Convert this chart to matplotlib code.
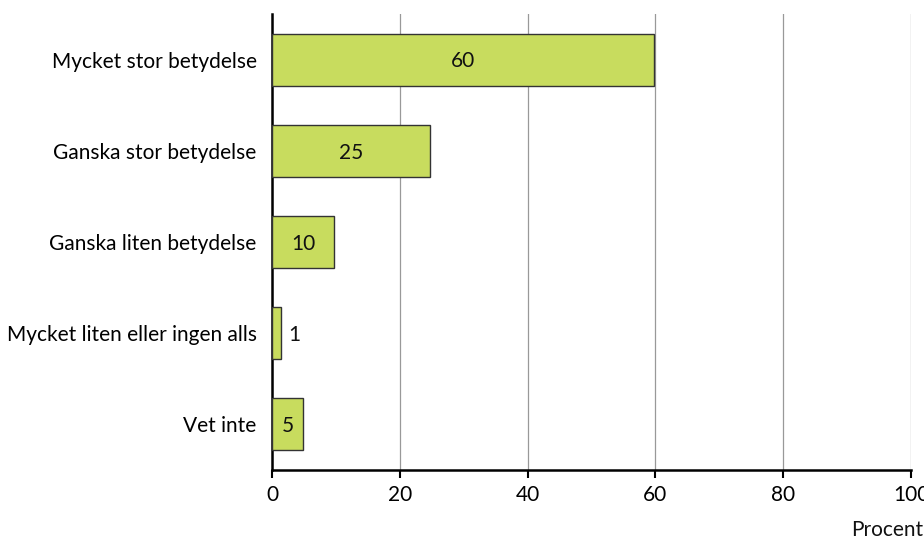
import matplotlib.pyplot as plt
import numpy as np

categories = ["Mycket stor betydelse", "Ganska stor betydelse", "Ganska liten betydelse",
              "Mycket liten eller ingen alls", "Vet inte"]
values = [59.8, 24.7, 9.7, 1.4, 4.8]
labels = ["60", "25", "10", "1", "5"]

plt.rcParams['font.family'] = ['Lato', 'DejaVu Sans']
fs = 15

fig = plt.figure(figsize=(9.24, 5.43), dpi=100)
ax = fig.add_axes([0.2944, 0.1344, 0.6916, 0.8398])

ys = np.arange(len(categories))
ax.barh(ys, values, height=0.57, color='#C8DC5E', edgecolor='#333333', linewidth=1, zorder=3)

for y, v, lab in zip(ys, values, labels):
    if v < 3:
        ax.text(v + 1.1, y + 0.02, lab, ha='left', va='center', fontsize=fs, color='#111111', zorder=4)
    else:
        ax.text(v / 2, y + 0.02, lab, ha='center', va='center', fontsize=fs, color='#111111', zorder=4)

ax.set_xlim(0, 100)
ax.set_ylim(4.5, -0.5)
ax.set_yticks(ys)
ax.set_yticklabels(categories, fontsize=fs)
ax.set_xticks([0, 20, 40, 60, 80, 100])
ax.tick_params(axis='y', length=0, pad=11)
ax.tick_params(axis='x', length=6, width=1.5, labelsize=fs, pad=5)
ax.xaxis.grid(True, color='#999999', linewidth=0.9, zorder=0)

for s in ['top', 'right']:
    ax.spines[s].set_visible(False)
ax.spines['left'].set_linewidth(1.8)
ax.spines['bottom'].set_linewidth(1.8)

fig.text(0.999, 0.005, "Procent", ha='right', va='bottom', fontsize=fs, color='#111111')

fig.savefig("out.png", dpi=100)
